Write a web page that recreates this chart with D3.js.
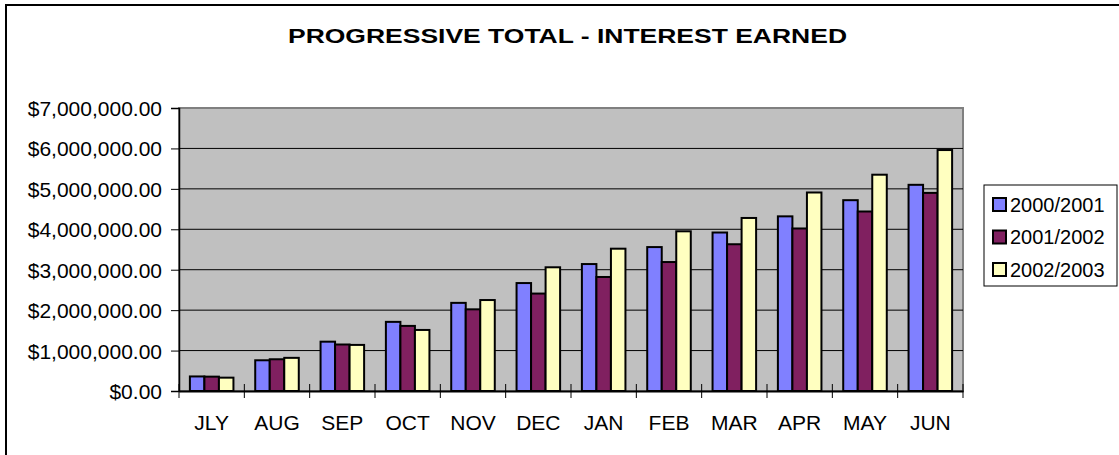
<!DOCTYPE html>
<html>
<head>
<meta charset="utf-8">
<script src="https://cdn.jsdelivr.net/npm/d3@7"></script>
<style>
  body { margin: 0; background: #fff; }
  svg { display: block; font-family: "Liberation Sans", Arial, sans-serif; }
</style>
</head>
<body>
<div id="chart"></div>
<script>
// months of the financial year
const months = ["JLY", "AUG", "SEP", "OCT", "NOV", "DEC", "JAN", "FEB", "MAR", "APR", "MAY", "JUN"];
const seriesNames = ["2000/2001", "2001/2002", "2002/2003"];

// running totals
const y2000 = [360000, 760000, 1220000, 1710000, 2180000, 2670000, 3140000, 3560000, 3920000, 4320000, 4720000, 5100000];
const y2001 = [355000, 785000, 1150000, 1610000, 2020000, 2410000, 2820000, 3190000, 3630000, 4020000, 4440000, 4900000];
const y2002 = [330000, 820000, 1140000, 1510000, 2250000, 3060000, 3520000, 3950000, 4280000, 4910000, 5350000, 5960000];

const yTicks = [0, 1000000, 2000000, 3000000, 4000000, 5000000, 6000000, 7000000];
const colors = ["#8080FF", "#802060", "#FFFFC0"];

const width = 1119, height = 455;
const allSeries = [y2000, y2001, y2002];

const svg = d3.select("#chart").append("svg")
    .attr("width", width)
    .attr("height", height);

// chart area border (cut off at right/bottom like the picture)
svg.append("rect")
    .attr("x", 6).attr("y", 5)
    .attr("width", 1200).attr("height", 600)
    .attr("fill", "#fff")
    .attr("stroke", "#000")
    .attr("stroke-width", 2);

// title
svg.append("text")
    .attr("x", 288).attr("y", 43)
    .attr("textLength", 559)
    .attr("lengthAdjust", "spacingAndGlyphs")
    .style("font-size", "21px")
    .style("font-weight", "bold")
    .text("PROGRESSIVE TOTAL - INTEREST EARNED");

const plot = { left: 179, right: 963, top: 108, bottom: 391 };

const x = d3.scaleBand().domain(months).range([plot.left, plot.right]).padding(0);
const xs = d3.scaleBand().domain(seriesNames).range([0, x.bandwidth()])
    .paddingInner(0).paddingOuter(0.75);
const y = d3.scaleLinear().domain([0, 7000000]).range([plot.bottom, plot.top]);

// plot background
svg.append("rect")
    .attr("x", plot.left).attr("y", plot.top)
    .attr("width", plot.right - plot.left)
    .attr("height", plot.bottom - plot.top)
    .attr("fill", "#C0C0C0")
    .attr("stroke", "#808080")
    .attr("stroke-width", 2);

// gridlines
svg.append("g")
    .selectAll("line")
    .data(yTicks.filter(d => d > 0 && d < 7000000))
    .join("line")
    .attr("x1", plot.left).attr("x2", plot.right)
    .attr("y1", d => y(d)).attr("y2", d => y(d))
    .attr("stroke", "#000")
    .attr("stroke-width", 1);

// bars
const groups = svg.append("g")
    .selectAll("g")
    .data(seriesNames)
    .join("g")
    .attr("fill", (d, i) => colors[i]);

groups.selectAll("rect")
    .data((s, i) => allSeries[i].map((v, j) => ({ s: s, m: months[j], v: v })))
    .join("rect")
    .attr("x", d => x(d.m) + xs(d.s))
    .attr("width", xs.bandwidth())
    .attr("y", d => y(d.v))
    .attr("height", d => y(0) - y(d.v))
    .attr("stroke", "#000")
    .attr("stroke-width", 2);

// y axis
const fmt = d => "$" + d3.format(",.2f")(d);
const yAxis = svg.append("g")
    .attr("transform", `translate(${plot.left},0)`)
    .call(d3.axisLeft(y).tickValues(yTicks).tickFormat(fmt).tickSize(8).tickPadding(9));
yAxis.select(".domain").attr("stroke", "#000").attr("stroke-width", 1.5);
yAxis.selectAll(".tick line").attr("stroke", "#000");
yAxis.selectAll("text")
    .style("font-size", "21px")
    .attr("fill", "#000")
    .attr("dy", "0.36em");

// x axis
const xAxis = svg.append("g")
    .attr("transform", `translate(0,${plot.bottom})`)
    .call(d3.axisBottom(x).tickSize(0).tickPadding(24));
xAxis.select(".domain").attr("stroke", "#000").attr("stroke-width", 2);
xAxis.selectAll("text")
    .style("font-size", "21px")
    .attr("fill", "#000");

// cross tick marks at category boundaries
const bounds = months.map(m => x(m)).concat([plot.right]);
svg.append("g")
    .selectAll("line")
    .data(bounds)
    .join("line")
    .attr("x1", d => d).attr("x2", d => d)
    .attr("y1", plot.bottom - 7).attr("y2", plot.bottom + 7)
    .attr("stroke", "#000")
    .attr("stroke-width", 1);

// legend
const legend = svg.append("g");
legend.append("rect")
    .attr("x", 984).attr("y", 185)
    .attr("width", 133).attr("height", 101)
    .attr("fill", "#fff")
    .attr("stroke", "#000")
    .attr("stroke-width", 1);

const items = legend.selectAll("g")
    .data(seriesNames)
    .join("g")
    .attr("transform", (d, i) => `translate(993,${198 + i * 32.5})`);
items.append("rect")
    .attr("width", 13).attr("height", 13)
    .attr("fill", (d, i) => colors[i])
    .attr("stroke", "#000")
    .attr("stroke-width", 2);
items.append("text")
    .attr("x", 17).attr("y", 6.5)
    .attr("dy", "0.36em")
    .style("font-size", "20px")
    .text(d => d);
</script>
</body>
</html>
